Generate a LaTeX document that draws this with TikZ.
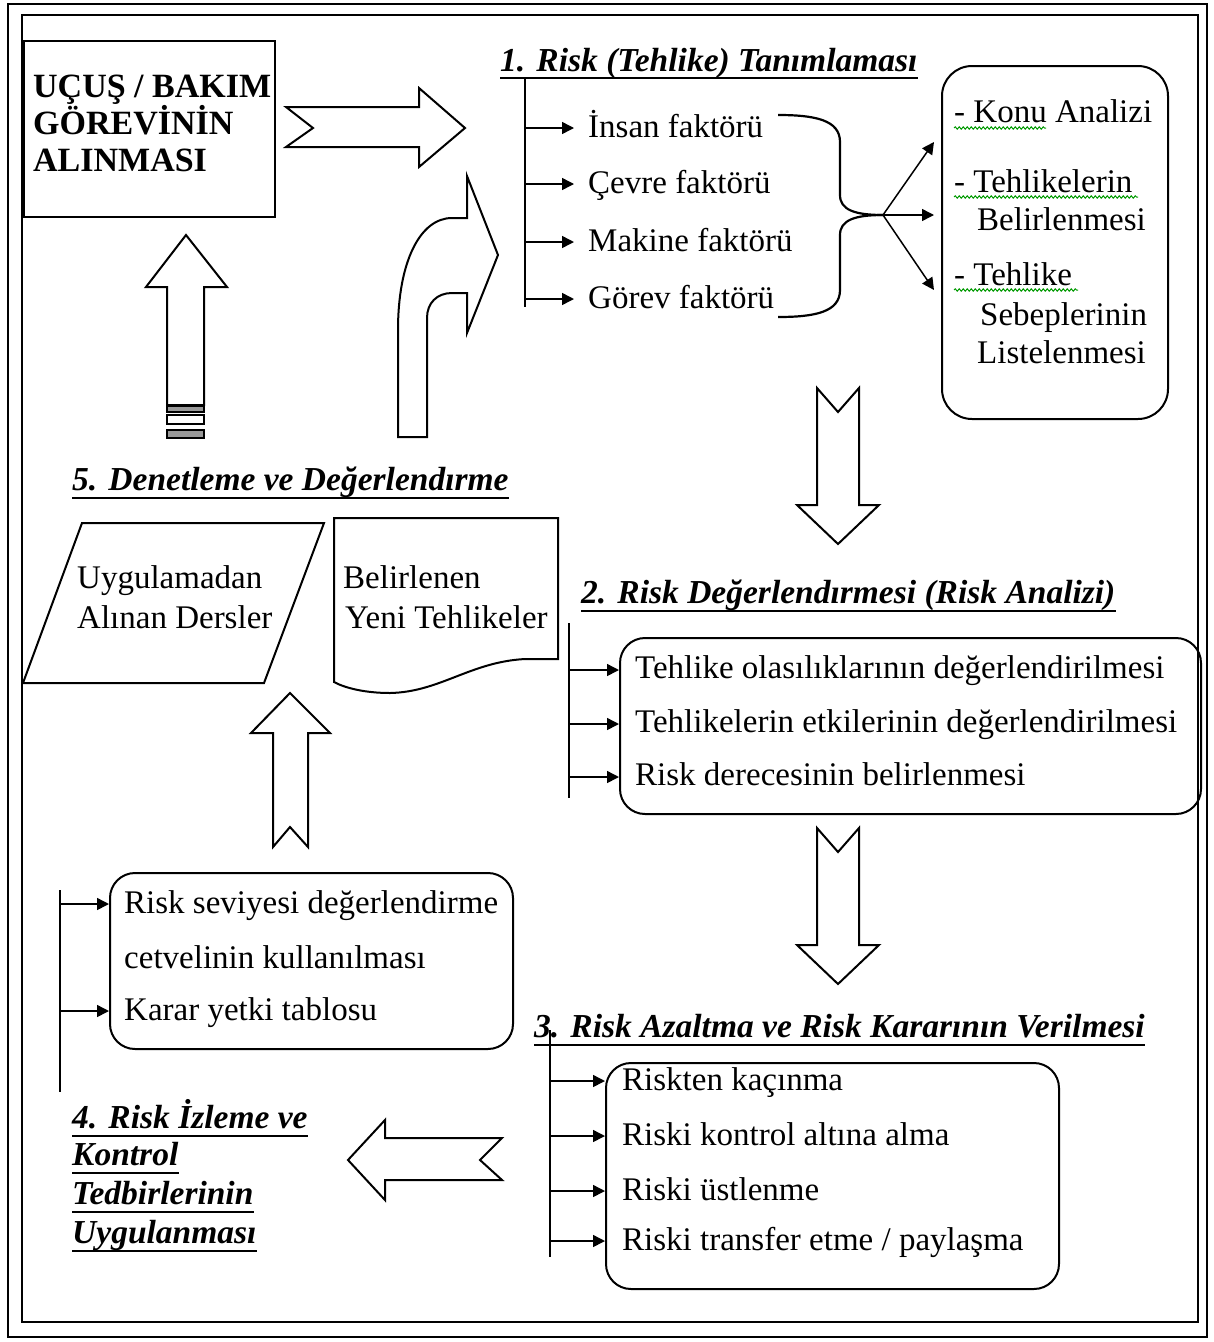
\documentclass[tikz,border=0pt]{standalone}
\usepackage{fontspec}
\setmainfont{Liberation Serif}
\usetikzlibrary{arrows.meta,decorations.pathmorphing}
\tikzset{
 frameO/.style={line width=2.5pt},
 frameI/.style={line width=1.2pt},
 shp/.style={draw, line width=2pt, line join=miter},
 blk/.style={draw, line width=2pt, fill=white, line join=miter},
 rbox/.style={draw, line width=2pt, rounded corners=25pt, inner sep=0pt, anchor=north west},
 sqbox/.style={draw, line width=2pt, inner sep=0pt, anchor=north west},
 txt/.style={font=\fontsize{33}{40}\selectfont, inner sep=0pt, anchor=base west},
 capt/.style={font=\bfseries\fontsize{34}{40}\selectfont, inner sep=0pt, anchor=base west},
 ttl/.style={font=\bfseries\itshape\fontsize{33.5}{38}\selectfont, inner sep=0pt, anchor=base west},
 uline/.style={line width=2.5pt},
 spine/.style={line width=1.5pt},
 conn/.style={line width=1.5pt, -{Triangle[length=12pt,width=12pt]}},
 brace/.style={line width=2.2pt},
 squig/.style={draw=green!60!black, line width=1pt, decorate, decoration={snake, amplitude=1.2pt, segment length=4pt}},
 stripe/.style={draw, line width=1.5pt},
}
\begin{document}
\begin{tikzpicture}[x=1pt,y=-1pt]
\useasboundingbox (0,0) rectangle (1214,1342);
\draw[frameO] (8,4) rectangle (1207,1337);
\draw[frameI] (22,15) rectangle (1198,1322);

% ---- Task box
\node[sqbox, minimum width=251pt, minimum height=176pt] (task) at (23,40) {};
\node[capt] (task1) at (33,97) {UÇUŞ / BAKIM};
\node[capt] (task2) at (33,134) {GÖREVİNİN};
\node[capt] (task3) at (33,171) {ALINMASI};

% notched right arrow
\draw[blk] (286,107) -- (419,107) -- (419,88) -- (465,128) -- (419,167) -- (419,147) -- (286,147) -- (313,128) -- cycle;

% curved arrow
\draw[blk] (398,437) -- (398,330) .. controls (398,262) and (420,218) .. (452,218) -- (467,218) -- (467,176) -- (498,255) -- (467,333) -- (467,293) -- (452,293) .. controls (437,293) and (427,303) .. (427,318) -- (427,437) -- cycle;

% up arrow with stripes
\draw[blk] (167,405) -- (167,287) -- (146,287) -- (186,235) -- (227,287) -- (204,287) -- (204,405) -- cycle;
\draw[stripe, fill=gray!80] (167,406) rectangle (204,412);
\draw[stripe, fill=white] (167,415) rectangle (204,424);
\draw[stripe, fill=gray!80] (167,430) rectangle (204,438);

% ---- Step 1
\node[ttl] (t1) at (500,71) {1. Risk (Tehlike) Tanımlaması};
\draw[uline] ([yshift=-7pt]t1.base west) -- ([yshift=-7pt]t1.base east);
\coordinate (s1a) at (525,78);
\coordinate (s1b) at (525,307);
\draw[spine] (s1a) -- (s1b);
\node[txt] (f1) at (588,137) {İnsan faktörü};
\node[txt] (f2) at (588,193) {Çevre faktörü};
\node[txt] (f3) at (588,251) {Makine faktörü};
\node[txt] (f4) at (588,308) {Görev faktörü};
\foreach \n in {f1,f2,f3,f4}{
  \coordinate (\n tip) at ([xshift=-14pt,yshift=9pt]\n.base west);
  \draw[conn] (s1a |- \n tip) -- (\n tip);
}

% right rounded box
\node[rbox, minimum width=226pt, minimum height=353pt, rounded corners=30pt] (r1) at (941,65) {};
\node[txt] (k1) at (954,122) {- Konu Analizi};
\node[txt] (k2) at (954,192) {- Tehlikelerin};
\node[txt] (k3) at (977,230) {Belirlenmesi};
\node[txt] (k4) at (954,285) {- Tehlike};
\node[txt] (k5) at (980,325) {Sebeplerinin};
\node[txt] (k6) at (977,363) {Listelenmesi};
\draw[squig] (954,128) -- (1046,128);
\draw[squig] (954,197) -- (1138,197);
\draw[squig] (954,290) -- (1078,290);

% brace and fan arrows
\coordinate (hub) at (883,215);
\coordinate (bt) at (778,115);
\coordinate (bb) at (778,317);
\draw[brace] (bt) .. controls (815,115) and (840,120) .. (840,142) -- (840,195) .. controls (840,210) and (855,215) .. (hub);
\draw[brace] (bb) .. controls (815,317) and (840,312) .. (840,290) -- (840,235) .. controls (840,220) and (855,215) .. (hub);
\coordinate (e1) at (934,142);
\coordinate (e2) at (934,215);
\coordinate (e3) at (934,290);
\draw[conn] (hub) -- (e1);
\draw[conn] (hub) -- (e2);
\draw[conn] (hub) -- (e3);

% down arrows
\draw[blk] (817,388) -- (838,412) -- (859,388) -- (859,505) -- (879,505) -- (838,544) -- (797,505) -- (817,505) -- cycle;
\draw[blk] (817,828) -- (838,852) -- (859,828) -- (859,945) -- (879,945) -- (838,984) -- (797,945) -- (817,945) -- cycle;

% ---- Step 5
\node[ttl] (t5) at (72,490) {5. Denetleme ve Değerlendırme};
\draw[uline] ([yshift=-8pt]t5.base west) -- ([yshift=-8pt]t5.base east);
\draw[shp] (23,683) -- (82,523) -- (324,523) -- (264,683) -- cycle;
\node[txt] (u1) at (77,588) {Uygulamadan};
\node[txt] (u2) at (77,628) {Alınan Dersler};
\draw[shp] (334,682) -- (334,518) -- (558,518) -- (558,659) -- (525,659) .. controls (470,662) and (440,692) .. (390,693) .. controls (365,693) and (345,688) .. (334,682) -- cycle;
\node[txt] (y1) at (343,588) {Belirlenen};
\node[txt] (y2) at (345,628) {Yeni Tehlikeler};

% middle up arrow
\draw[blk] (273,847) -- (273,733) -- (251,733) -- (290,693) -- (330,733) -- (308,733) -- (308,847) -- (290,827) -- cycle;

% ---- Step 2
\node[ttl] (t2) at (581,603) {2. Risk Değerlendırmesi (Risk Analizi)};
\draw[uline] ([yshift=-8pt]t2.base west) -- ([yshift=-8pt]t2.base east);
\coordinate (s2a) at (569,623);
\coordinate (s2b) at (569,798);
\draw[spine] (s2a) -- (s2b);
\node[rbox, minimum width=581pt, minimum height=176pt] (r2) at (619,637) {};
\node[txt] (d1) at (635,678) {Tehlike olasılıklarının değerlendirilmesi};
\node[txt] (d2) at (635,732) {Tehlikelerin etkilerinin değerlendirilmesi};
\node[txt] (d3) at (635,785) {Risk derecesinin belirlenmesi};
\foreach \n in {d1,d2,d3}{
  \coordinate (\n tip) at ([yshift=8pt]\n.base west);
  \draw[conn] (s2a |- \n tip) -- (r2.west |- \n tip);
}

% ---- Monitoring box
\node[rbox, minimum width=403pt, minimum height=176pt] (r4) at (109,872) {};
\node[txt] (m1) at (124,913) {Risk seviyesi değerlendirme};
\node[txt] (m2) at (124,968) {cetvelinin kullanılması};
\node[txt] (m3) at (124,1020) {Karar yetki tablosu};
\coordinate (s4a) at (60,890);
\coordinate (s4b) at (60,1092);
\draw[spine] (s4a) -- (s4b);
\foreach \n in {m1,m3}{
  \coordinate (\n tip) at ([yshift=9pt]\n.base west);
  \draw[conn] (s4a |- \n tip) -- (r4.west |- \n tip);
}

% ---- Step 4
\node[ttl] (t4a) at (72,1128) {4. Risk İzleme ve};
\node[ttl] (t4b) at (72,1165) {Kontrol};
\node[ttl] (t4c) at (72,1204) {Tedbirlerinin};
\node[ttl] (t4d) at (72,1243) {Uygulanması};
\foreach \n in {t4a,t4b,t4c,t4d}{
  \draw[uline] ([yshift=-8pt]\n.base west) -- ([yshift=-8pt]\n.base east);
}
\draw[blk] (502,1138) -- (385,1138) -- (385,1120) -- (348,1160) -- (385,1200) -- (385,1180) -- (502,1180) -- (480,1160) -- cycle;

% ---- Step 3
\node[ttl] (t3) at (534,1037) {3. Risk Azaltma ve Risk Kararının Verilmesi};
\draw[uline] ([yshift=-8pt]t3.base west) -- ([yshift=-8pt]t3.base east);
\coordinate (s3a) at (550,1030);
\coordinate (s3b) at (550,1257);
\draw[spine] (s3a) -- (s3b);
\node[rbox, minimum width=453pt, minimum height=226pt] (r3) at (605,1062) {};
\node[txt] (c1) at (622,1090) {Riskten kaçınma};
\node[txt] (c2) at (622,1145) {Riski kontrol altına alma};
\node[txt] (c3) at (622,1200) {Riski üstlenme};
\node[txt] (c4) at (622,1250) {Riski transfer etme / paylaşma};
\foreach \n in {c1,c2,c3,c4}{
  \coordinate (\n tip) at ([yshift=9pt]\n.base west);
  \draw[conn] (s3a |- \n tip) -- (r3.west |- \n tip);
}
\end{tikzpicture}
\end{document}
